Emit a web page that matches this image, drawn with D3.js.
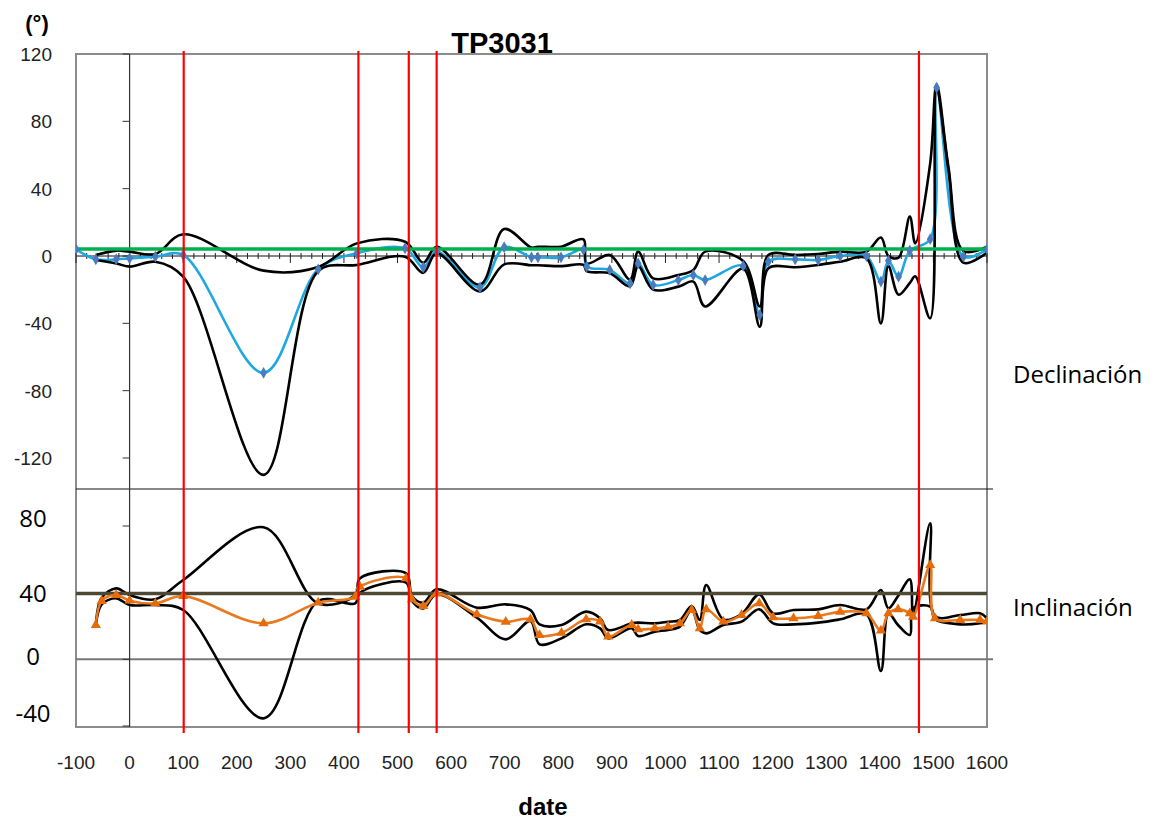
<!DOCTYPE html>
<html>
<head>
<meta charset="utf-8">
<script src="https://cdn.jsdelivr.net/npm/d3@7"></script>
<style>
  body { margin: 0; background: #fff; }
  svg { display: block; }
</style>
</head>
<body>
<div id="plot"></div>
<script>
// declination (top panel): mean and the two black envelopes (null = no point for that series)
var decDate  = [-100, -63, -25, 0, 48, 100, 250, 352, 424, 514, 548, 573, 654, 699, 750, 762, 805, 847, 853, 896, 934, 949, 977, 1024, 1052, 1074, 1145, 1176, 1192, 1242, 1285, 1326, 1375, 1402, 1416, 1435, 1456, 1466, 1494, 1506, 1528, 1556, 1600];
var decMean  = [4, -2, -2, -1.4, -0.4, 0.6, -69.4, -7.9, 1.6, 4.6, -6.7, 2.6, -18.6, 5.2, -0.8, -0.8, -0.8, 3.6, -6.3, -8.3, -16.2, -4.4, -17.2, -14.3, -11.3, -14.3, -5.9, -35, -3.4, -2, -2.4, 0, 0, -15.2, -2.8, -12.3, 3.2, null, 10, 100, null, -0.4, 4];
var decUpper = [null, 0.6, 3.2, 2.6, 1.2, 12.9, -8.7, -6.5, 7.5, 8.5, -4, 5.5, -17, 16, 5, 5.5, 5.5, 9.9, -4.4, 0.6, -14, 2.6, -13.3, -11.3, -8.3, 2.6, -3, -30, 0.6, 0.6, 1.2, 2.6, 2.6, 11, 0, -1, 23.4, 7.5, 55, 102, 53, 3, 5.5];
var decLower = [null, -2.4, -4.4, -6.3, -3.4, -12.3, -130, -9, -5.3, -0.4, -10, 1.6, -21, -5, -5.5, -5.5, -6, -5.3, -9, -10.3, -18, -6, -20, -18.2, -15.2, -30, -7.5, -42, -7.3, -6.7, -5.3, -3.4, -1.4, -40, -6, -23, -16, -12, -37, 99, 51, -4, 2];

// inclination (bottom panel)
var incDate  = [-63, -52, -25, 0, 48, 100, 250, 352, 421, 430, 516, 527, 548, 573, 648, 702, 748, 765, 806, 852, 878, 893, 937, 949, 980, 1005, 1027, 1049, 1064, 1076, 1108, 1142, 1175, 1201, 1239, 1285, 1326, 1375, 1402, 1416, 1434, 1456, 1462, 1494, 1503, 1550, 1587, 1600];
var incMean  = [20.6, 35, 38.6, 35.2, 33.6, 38, 21.6, 34, 37.5, 43.5, 48.6, 36, 32, 39.5, 27, 22.5, 24, 14.5, 15.9, 24, 22.6, 13.6, 20.6, 18, 18.6, 19.6, 21.6, 29.6, 18.6, 30, 22.6, 26.6, 33.6, 25.2, 24.6, 26, 28.5, 27.6, 17.2, 27.6, 30, 27.6, 25.5, 56.5, 24.6, 23.6, 23.6, 22.6];
var incUpper = [20.6, 37, 42.6, 38.6, 36, 47.6, 79.2, 33.5, 38.6, 48.6, 51.6, 38, 34, 42, 31, 33, 29.5, 21, 20.6, 28.6, 24.6, 17.6, 21.6, 22, 21.6, 22.6, 23.6, 31.9, 23.6, 44.6, 24, 27.2, 39, 27.6, 29.6, 30, 32.6, 30, 41.6, 30.6, 38, 48, 26.5, 81.6, 26, 26.6, 27.6, 24.6];
var incLower = [20.6, 33, 36.6, 32.6, 32.6, 29.6, -35.4, 35, 33.6, 40, 46, 35, 30.5, 39, 25, 12, 23, 9, 12.6, 21, 18.6, 12.6, 18.6, 14, 16.6, 17.6, 19.6, 29.6, 17.6, 15.6, 20.6, 22.6, 30, 21.6, 21, 22, 24, 27, -7, 27.6, 20.6, 14.6, 30.6, 31.6, 24, 21, 21.6, 22.6];

// reference values and event dates
var decRef = 4.2;
var incRef = 39.5;
var redDates = [101, 427, 521, 573, 1473];

// tick labels
var xTicks = [-100, 0, 100, 200, 300, 400, 500, 600, 700, 800, 900, 1000, 1100, 1200, 1300, 1400, 1500, 1600];
var decTicks = [120, 80, 40, 0, -40, -80, -120];
var incTicks = [80, 40, 0, -40];

var width = 1168;
var height = 819;

var canvas = d3.select('#plot')
    .append('svg')
    .attr('width', width)
    .attr('height', height);

var plotL = 76, plotR = 987, plotT = 54, plotM = 489, plotB = 727;

var x = d3.scaleLinear().domain([-100, 1600]).range([plotL, plotR]);
var yTop = d3.scaleLinear().domain([-120, 120]).range([458, 54]);
var yBot = d3.scaleLinear().domain([-40, 80]).range([726, 526]);

var arial = 'Liberation Sans, Arial, sans-serif';
var calib = 'Open Sans, sans-serif';

var defs = canvas.append('defs');
defs.append('clipPath').attr('id', 'clipTop')
    .append('rect').attr('x', plotL).attr('y', plotT).attr('width', plotR - plotL).attr('height', plotM - plotT);
defs.append('clipPath').attr('id', 'clipBot')
    .append('rect').attr('x', plotL).attr('y', plotM).attr('width', plotR - plotL).attr('height', plotB - plotM);

// titles
canvas.append('text')
    .attr('x', 502).attr('y', 53)
    .attr('text-anchor', 'middle')
    .attr('font-family', arial)
    .attr('font-weight', 'bold')
    .attr('font-size', 29)
    .text('TP3031');

canvas.append('text')
    .attr('x', 37).attr('y', 31)
    .attr('text-anchor', 'middle')
    .attr('font-family', arial)
    .attr('font-weight', 'bold')
    .attr('font-size', 22)
    .text('(°)');

// frame
canvas.append('rect')
    .attr('x', plotL).attr('y', plotT)
    .attr('width', plotR - plotL).attr('height', plotB - plotT)
    .attr('fill', 'none')
    .attr('stroke', '#8c8c8c')
    .attr('stroke-width', 2);

canvas.append('line')
    .attr('x1', plotL).attr('x2', 993)
    .attr('y1', plotM).attr('y2', plotM)
    .attr('stroke', '#111').attr('stroke-width', 1);

canvas.append('line')
    .attr('x1', plotL).attr('x2', 993)
    .attr('y1', yBot(0)).attr('y2', yBot(0))
    .attr('stroke', '#777').attr('stroke-width', 2);

// vertical axis at date 0
canvas.append('line')
    .attr('x1', x(0)).attr('x2', x(0))
    .attr('y1', plotT).attr('y2', plotB)
    .attr('stroke', '#333').attr('stroke-width', 1.2);

canvas.selectAll('line.ytick-top')
    .data(decTicks)
    .enter()
    .append('line')
    .attr('class', 'ytick-top')
    .attr('x1', x(0) - 7).attr('x2', x(0))
    .attr('y1', function(d) { return yTop(d); })
    .attr('y2', function(d) { return yTop(d); })
    .attr('stroke', '#333');

canvas.selectAll('line.ytick-bot')
    .data(incTicks)
    .enter()
    .append('line')
    .attr('class', 'ytick-bot')
    .attr('x1', x(0) - 7).attr('x2', x(0))
    .attr('y1', function(d) { return yBot(d); })
    .attr('y2', function(d) { return yBot(d); })
    .attr('stroke', '#333');

// top panel horizontal axis at 0 with minor ticks
canvas.append('line')
    .attr('x1', plotL).attr('x2', plotR)
    .attr('y1', yTop(0)).attr('y2', yTop(0))
    .attr('stroke', '#111').attr('stroke-width', 1.2);

var minor = d3.range(-100, 1601, 20);
canvas.selectAll('line.minor')
    .data(minor)
    .enter()
    .append('line')
    .attr('class', 'minor')
    .attr('x1', function(d) { return x(d); })
    .attr('x2', function(d) { return x(d); })
    .attr('y1', yTop(0) - 3)
    .attr('y2', function(d) { return d % 100 === 0 ? yTop(0) + 7 : yTop(0) + 3; })
    .attr('stroke', '#222')
    .attr('stroke-width', 1);

canvas.selectAll('text.ylab-top')
    .data(decTicks)
    .enter()
    .append('text')
    .attr('class', 'ylab-top')
    .attr('x', 52)
    .attr('y', function(d) { return yTop(d) + 7; })
    .attr('text-anchor', 'end')
    .attr('font-family', arial)
    .attr('font-size', 19)
    .attr('fill', '#222')
    .text(function(d) { return d; });

var nudge = {'80': -6, '40': 2, '0': -1, '-40': -11};
canvas.selectAll('text.ylab-bot')
    .data(incTicks)
    .enter()
    .append('text')
    .attr('class', 'ylab-bot')
    .attr('x', 33)
    .attr('y', function(d) { return yBot(d) + 7 + nudge[d]; })
    .attr('text-anchor', 'middle')
    .attr('font-family', calib)
    .attr('font-size', 24)
    .attr('fill', '#000')
    .text(function(d) { return d; });

canvas.selectAll('text.xlab')
    .data(xTicks)
    .enter()
    .append('text')
    .attr('class', 'xlab')
    .attr('x', function(d) { return x(d); })
    .attr('y', 769)
    .attr('text-anchor', 'middle')
    .attr('font-family', arial)
    .attr('font-size', 19)
    .attr('fill', '#222')
    .text(function(d) { return d; });

canvas.append('text')
    .attr('x', 543).attr('y', 815)
    .attr('text-anchor', 'middle')
    .attr('font-family', arial)
    .attr('font-weight', 'bold')
    .attr('font-size', 24)
    .text('date');

canvas.append('text')
    .attr('x', 1013).attr('y', 383)
    .attr('font-family', calib)
    .attr('font-size', 24)
    .text('Declinación');

canvas.append('text')
    .attr('x', 1013).attr('y', 616)
    .attr('font-family', calib)
    .attr('font-size', 24)
    .text('Inclinación');

// series
function rows(dates, vals) {
    return dates
        .map(function(d, i) { return { date: d, v: vals[i] }; })
        .filter(function(d) { return d.v !== null; });
}

function lineGen(y) {
    return d3.line()
        .curve(d3.curveCatmullRom.alpha(0.5))
        .x(function(d) { return x(d.date); })
        .y(function(d) { return y(d.v); });
}

var topG = canvas.append('g').attr('clip-path', 'url(#clipTop)');
var botG = canvas.append('g').attr('clip-path', 'url(#clipBot)');

topG.append('path')
    .attr('d', lineGen(yTop)(rows(decDate, decMean)))
    .attr('fill', 'none')
    .attr('stroke', '#1fa7e1')
    .attr('stroke-width', 2.6);

[decUpper, decLower].forEach(function(s) {
    topG.append('path')
        .attr('d', lineGen(yTop)(rows(decDate, s)))
        .attr('fill', 'none')
        .attr('stroke', '#000')
        .attr('stroke-width', 2.6);
});

topG.append('line')
    .attr('x1', plotL).attr('x2', plotR)
    .attr('y1', yTop(decRef)).attr('y2', yTop(decRef))
    .attr('stroke', '#00b050')
    .attr('stroke-width', 3.5);

topG.selectAll('path.dia')
    .data(rows(decDate, decMean))
    .enter()
    .append('path')
    .attr('class', 'dia')
    .attr('d', d3.symbol().type(d3.symbolDiamond).size(40))
    .attr('transform', function(d) { return 'translate(' + x(d.date) + ',' + yTop(d.v) + ')'; })
    .attr('fill', '#4a7bbd');

[incUpper, incLower].forEach(function(s) {
    botG.append('path')
        .attr('d', lineGen(yBot)(rows(incDate, s)))
        .attr('fill', 'none')
        .attr('stroke', '#000')
        .attr('stroke-width', 2.6);
});

botG.append('line')
    .attr('x1', plotL).attr('x2', plotR)
    .attr('y1', yBot(incRef)).attr('y2', yBot(incRef))
    .attr('stroke', '#4d4834')
    .attr('stroke-width', 3.5);

botG.append('path')
    .attr('d', lineGen(yBot)(rows(incDate, incMean)))
    .attr('fill', 'none')
    .attr('stroke', '#e8791f')
    .attr('stroke-width', 2.6);

botG.selectAll('path.tri')
    .data(rows(incDate, incMean))
    .enter()
    .append('path')
    .attr('class', 'tri')
    .attr('d', d3.symbol().type(d3.symbolTriangle).size(45))
    .attr('transform', function(d) { return 'translate(' + x(d.date) + ',' + yBot(d.v) + ')'; })
    .attr('fill', '#e46c0a');

// red event lines
canvas.selectAll('line.event')
    .data(redDates)
    .enter()
    .append('line')
    .attr('class', 'event')
    .attr('x1', function(d) { return x(d); })
    .attr('x2', function(d) { return x(d); })
    .attr('y1', 51).attr('y2', 733)
    .attr('stroke', '#ff0000')
    .attr('stroke-width', 2.2);
</script>
</body>
</html>
